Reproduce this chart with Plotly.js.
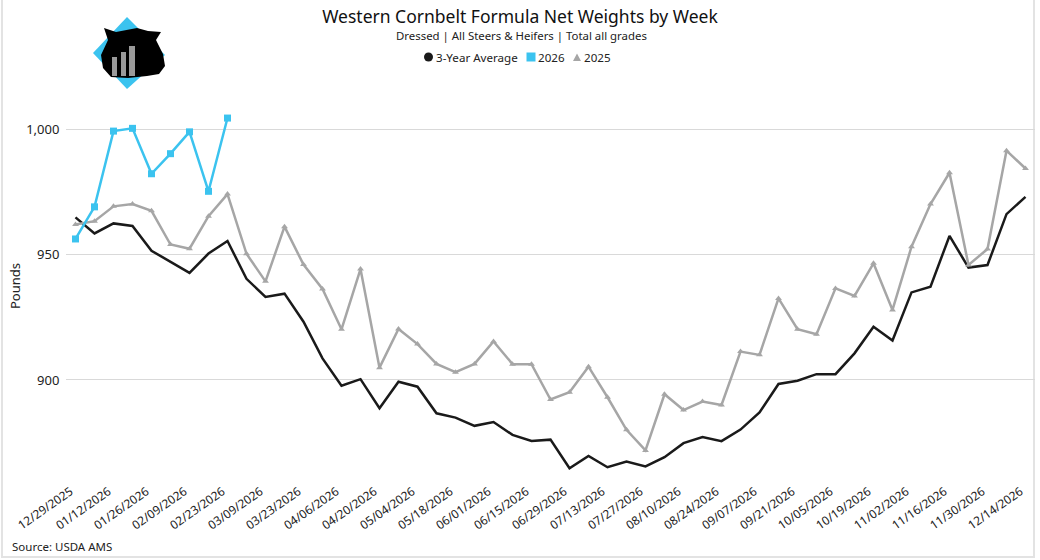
<!DOCTYPE html>
<html>
<head>
<meta charset="utf-8">
<script src="https://cdn.plot.ly/plotly-3.0.1.min.js"></script>
<style>html,body{margin:0;padding:0;background:#fff;}#chart{width:1040px;height:560px;}</style>
</head>
<body>
<div id="chart"></div>
<script>
const weeks = ["12/29/2025","01/05/2026","01/12/2026","01/19/2026","01/26/2026","02/02/2026","02/09/2026","02/16/2026","02/23/2026","03/02/2026","03/09/2026","03/16/2026","03/23/2026","03/30/2026","04/06/2026","04/13/2026","04/20/2026","04/27/2026","05/04/2026","05/11/2026","05/18/2026","05/25/2026","06/01/2026","06/08/2026","06/15/2026","06/22/2026","06/29/2026","07/06/2026","07/13/2026","07/20/2026","07/27/2026","08/03/2026","08/10/2026","08/17/2026","08/24/2026","08/31/2026","09/07/2026","09/14/2026","09/21/2026","09/28/2026","10/05/2026","10/12/2026","10/19/2026","10/26/2026","11/02/2026","11/09/2026","11/16/2026","11/23/2026","11/30/2026","12/07/2026","12/14/2026"];
const tickLabels = ["12/29/2025","01/12/2026","01/26/2026","02/09/2026","02/23/2026","03/09/2026","03/23/2026","04/06/2026","04/20/2026","05/04/2026","05/18/2026","06/01/2026","06/15/2026","06/29/2026","07/13/2026","07/27/2026","08/10/2026","08/24/2026","09/07/2026","09/21/2026","10/05/2026","10/19/2026","11/02/2026","11/16/2026","11/30/2026","12/14/2026"];
const avg3yr = [964.8,958.4,962.4,961.4,951.5,947.1,942.7,950.4,955.4,940.3,933.1,934.4,923.2,908.6,897.7,900.3,888.7,899.3,897.3,886.7,885.0,881.7,883.2,878.1,875.7,876.2,864.8,869.7,865.2,867.5,865.5,869.2,874.8,877.2,875.6,880.2,887.0,898.4,899.7,902.3,902.3,910.6,921.2,915.7,934.9,937.2,957.4,944.8,945.8,966.1,973.0];
const y2026 = [956.2,969.0,999.2,1000.3,982.2,990.2,998.9,975.2,1004.4];
const y2025 = [962.0,963.3,969.2,970.1,967.4,954.0,952.3,965.3,974.1,950.3,939.3,961.1,946.0,936.3,920.2,944.2,904.9,920.3,914.3,906.4,903.1,906.4,915.3,906.3,906.3,892.2,895.1,905.3,893.1,880.1,871.9,894.3,888.0,891.4,890.0,911.3,910.0,932.5,920.2,918.2,936.5,933.5,946.5,927.9,953.1,970.1,982.6,945.8,952.2,991.4,984.3];
const yTicks = [900, 950, 1000];
const seriesNames = ["3-Year Average", "2026", "2025"];

const FONT = "Noto Sans, Open Sans, sans-serif";
const BLACK = "#1a1a1a", BLUE = "#3bc3ef", GRAY = "#a6a6a6";

const logoSvg = '<svg xmlns="http://www.w3.org/2000/svg" width="76" height="76" viewBox="0 0 76 76">' +
  '<polygon points="37,2 3,38 37,74 75,40" fill="' + BLUE + '"/>' +
  '<path d="M11,40 L18,25 L14,13 L26,17 L47,13 L58,16 L71,17 L66,25 L73,39 L75,51 L69,59 L57,61 L38,63 L21,62 L13,53 Z" fill="#000"/>' +
  '<rect x="22" y="42" width="5" height="19" fill="#9a9a9a"/>' +
  '<rect x="31" y="37" width="5" height="24" fill="#9a9a9a"/>' +
  '<rect x="39" y="31" width="6" height="30" fill="#9a9a9a"/>' +
  '</svg>';

const traces = [
  {x: weeks, y: avg3yr, type: "scatter", mode: "lines", name: seriesNames[0],
   line: {color: BLACK, width: 2.5}},
  {x: weeks, y: y2025, type: "scatter", mode: "lines+markers", name: seriesNames[2],
   line: {color: GRAY, width: 2.5}, marker: {symbol: "triangle-up", size: 6, color: GRAY}},
  {x: weeks.slice(0, y2026.length), y: y2026, type: "scatter", mode: "lines+markers", name: seriesNames[1],
   line: {color: BLUE, width: 2.5}, marker: {symbol: "square", size: 7, color: BLUE}}
];

const L = 66, R = 5, T = 100, B = 88;
const PW = 1040 - L - R, PH = 560 - T - B;
const px = v => (v - L) / PW;
const py = v => (560 - B - v) / PH;

const LEG_Y = 57;
const legendFont = {family: FONT, size: 11.6, color: "#222"};

const layout = {
  width: 1040, height: 560, autosize: false,
  margin: {l: L, r: R, t: T, b: B, pad: 0, autoexpand: false},
  paper_bgcolor: "#fff", plot_bgcolor: "#fff",
  font: {family: FONT, color: "#222", size: 11},
  showlegend: false,
  title: {text: "Western Cornbelt Formula Net Weights by Week", x: 0.5, xref: "container", xanchor: "center",
          y: 1 - 17 / 560, yref: "container", yanchor: "middle",
          font: {family: FONT, size: 17.5, color: "#111"}},
  xaxis: {type: "category", range: [-0.5, weeks.length - 0.5], tickmode: "array",
          tickvals: tickLabels, ticktext: tickLabels, tickangle: -35, showgrid: false, zeroline: false,
          showline: false, ticks: "outside", ticklen: 7, tickcolor: "rgba(0,0,0,0)", ticklabelshift: -5,
          tickfont: {family: FONT, size: 12, color: "#222"}, automargin: false},
  yaxis: {range: [863.3, 1011.6], tickmode: "array", tickvals: yTicks, tickformat: ",",
          showgrid: true, gridcolor: "#d9d9d9", gridwidth: 1, zeroline: false, showline: false,
          ticks: "outside", ticklen: 3, tickcolor: "rgba(0,0,0,0)",
          tickfont: {family: FONT, size: 13, color: "#222"}, automargin: false,
          title: {text: "Pounds", font: {family: FONT, size: 13, color: "#222"}, standoff: 2}},
  annotations: [
    {text: "Dressed | All Steers & Heifers | Total all grades", xref: "paper", yref: "paper",
     x: px(521), y: py(36), xanchor: "center", yanchor: "middle", showarrow: false,
     font: {family: FONT, size: 11.4, color: "#222"}},
    {text: seriesNames[0], xref: "paper", yref: "paper", x: px(434), y: py(LEG_Y),
     xanchor: "left", yanchor: "middle", showarrow: false, font: legendFont},
    {text: seriesNames[1], xref: "paper", yref: "paper", x: px(536), y: py(LEG_Y),
     xanchor: "left", yanchor: "middle", showarrow: false, font: legendFont},
    {text: seriesNames[2], xref: "paper", yref: "paper", x: px(582), y: py(LEG_Y),
     xanchor: "left", yanchor: "middle", showarrow: false, font: legendFont},
    {text: "Source: USDA AMS", xref: "paper", yref: "paper", x: px(10), y: py(546),
     xanchor: "left", yanchor: "middle", showarrow: false, font: {family: FONT, size: 11.5, color: "#222"}}
  ],
  shapes: [
    {type: "rect", xref: "paper", yref: "paper", x0: px(2), x1: px(1034), y0: py(557), y1: py(-5),
     line: {color: "#e3e3e3", width: 2}, fillcolor: "rgba(0,0,0,0)", layer: "below"},
    {type: "circle", xref: "paper", yref: "paper", x0: px(424), x1: px(433), y0: py(LEG_Y + 4.5), y1: py(LEG_Y - 4.5),
     fillcolor: BLACK, line: {width: 0}},
    {type: "rect", xref: "paper", yref: "paper", x0: px(526.5), x1: px(535.5), y0: py(LEG_Y + 4.5), y1: py(LEG_Y - 4.5),
     fillcolor: BLUE, line: {width: 0}},
    {type: "path", xref: "paper", yref: "paper",
     path: "M " + px(573) + " " + py(LEG_Y + 4) + " L " + px(581) + " " + py(LEG_Y + 4) + " L " + px(577) + " " + py(LEG_Y - 3.5) + " Z",
     fillcolor: GRAY, line: {width: 0}}
  ],
  images: [
    {source: "data:image/svg+xml;charset=utf-8," + encodeURIComponent(logoSvg), xref: "paper", yref: "paper",
     x: px(90), y: py(15), sizex: 76 / PW, sizey: 76 / PH, xanchor: "left", yanchor: "top",
     sizing: "stretch", layer: "above"}
  ]
};

Plotly.newPlot("chart", traces, layout, {staticPlot: true, displayModeBar: false});
</script>
</body>
</html>
